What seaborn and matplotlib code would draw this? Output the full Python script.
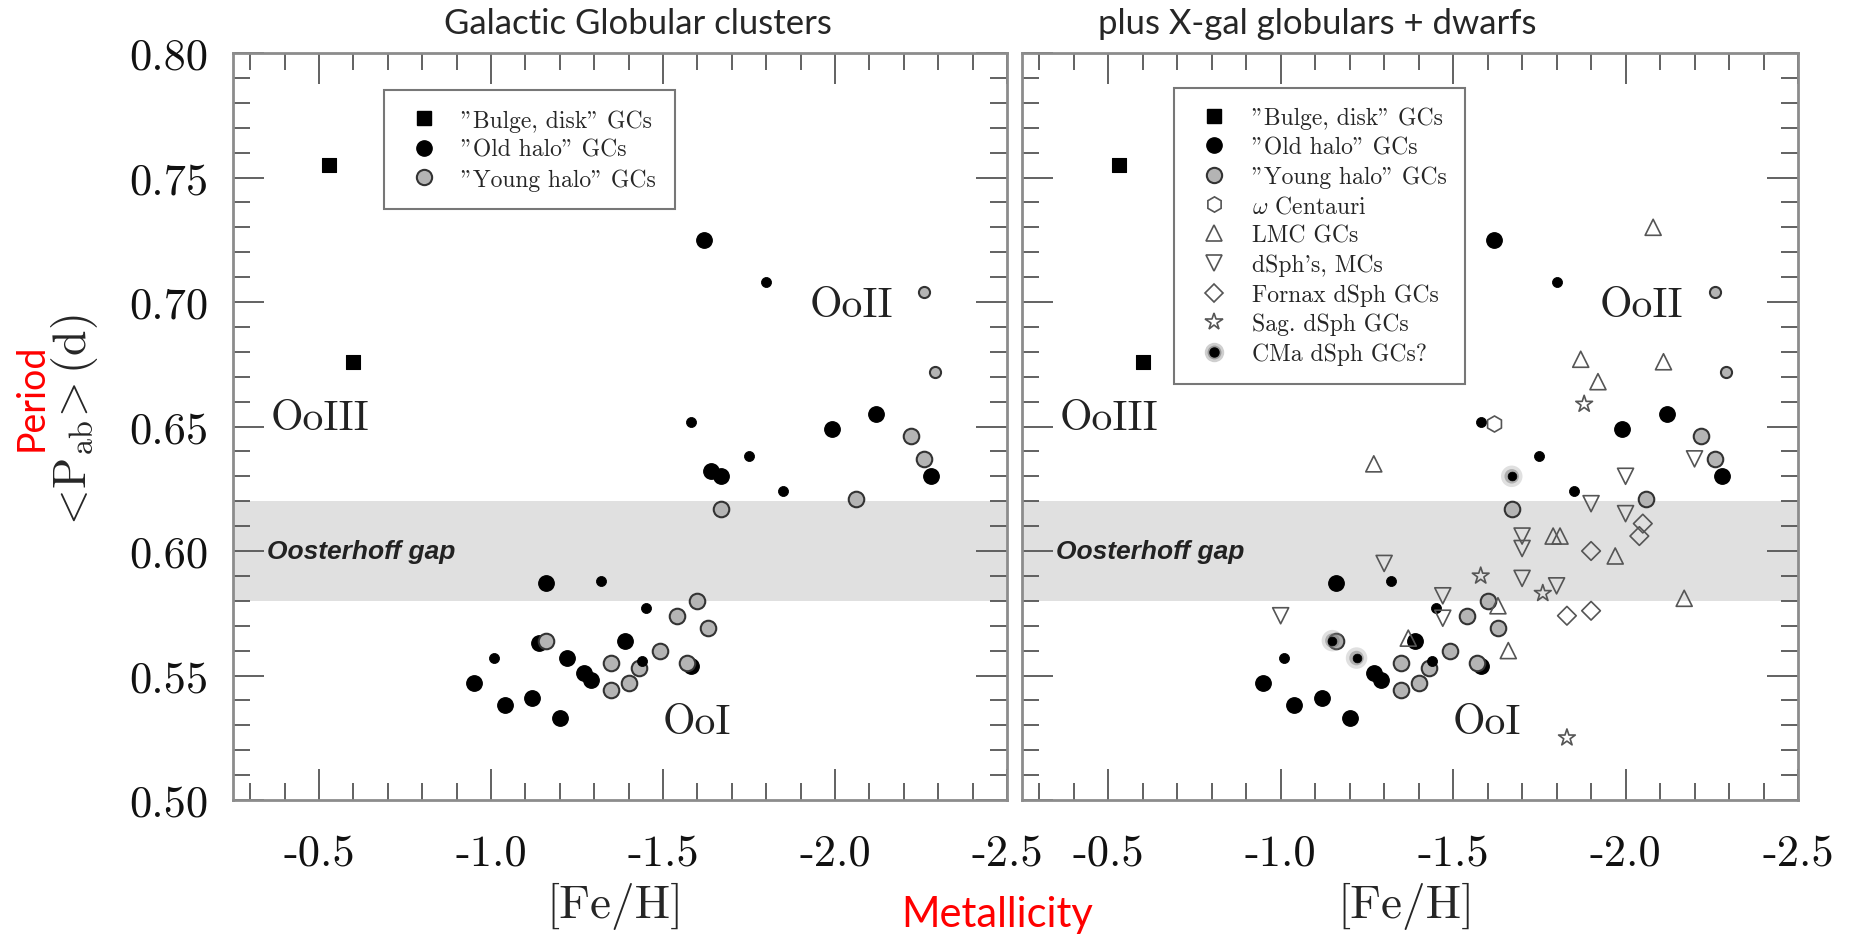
import matplotlib
matplotlib.use('Agg')
import matplotlib.pyplot as plt
import seaborn as sns
from matplotlib.lines import Line2D
from matplotlib.legend_handler import HandlerTuple
from matplotlib.ticker import MultipleLocator

# ---- data ([Fe/H], <Pab>) ----
bulge_feh = [-0.53, -0.60]
bulge_p = [0.755, 0.676]

old_big_feh = [-1.62, -1.99, -2.12, -1.64, -1.67, -2.28, -1.16, -1.39, -1.22,
               -1.27, -1.29, -0.95, -1.04, -1.12, -1.20, -1.14, -1.58]
old_big_p = [0.725, 0.649, 0.655, 0.632, 0.630, 0.630, 0.587, 0.564, 0.557,
             0.551, 0.548, 0.547, 0.538, 0.541, 0.533, 0.563, 0.554]
old_small_feh = [-1.80, -1.58, -1.75, -1.85, -1.32, -1.45, -1.01, -1.44]
old_small_p = [0.708, 0.652, 0.638, 0.624, 0.588, 0.577, 0.557, 0.556]

young_big_feh = [-2.22, -2.26, -1.67, -2.06, -1.60, -1.54, -1.63, -1.49,
                 -1.16, -1.35, -1.57, -1.43, -1.40, -1.35]
young_big_p = [0.646, 0.637, 0.617, 0.621, 0.580, 0.574, 0.569, 0.560,
               0.564, 0.555, 0.555, 0.553, 0.547, 0.544]
young_small_feh = [-2.26, -2.29]
young_small_p = [0.704, 0.672]

omega_feh = [-1.62]
omega_p = [0.651]
lmc_feh = [-2.08, -1.87, -2.11, -1.92, -1.27, -1.79, -1.81, -1.97, -2.17, -1.63, -1.66, -1.37]
lmc_p = [0.730, 0.677, 0.676, 0.668, 0.635, 0.606, 0.606, 0.598, 0.581, 0.578, 0.560, 0.565]
dsph_feh = [-2.20, -2.00, -1.90, -2.00, -1.70, -1.70, -1.30, -1.70, -1.80, -1.47, -1.47, -1.00]
dsph_p = [0.637, 0.630, 0.619, 0.615, 0.606, 0.601, 0.595, 0.589, 0.586, 0.582, 0.573, 0.574]
fornax_feh = [-2.05, -2.04, -1.90, -1.90, -1.83]
fornax_p = [0.611, 0.606, 0.600, 0.576, 0.574]
sag_feh = [-1.88, -1.58, -1.76, -1.83]
sag_p = [0.659, 0.590, 0.583, 0.525]
cma_feh = [-1.67, -1.15, -1.22]
cma_p = [0.630, 0.564, 0.557]

gap_low, gap_high = 0.58, 0.62
xticks = [-0.5, -1.0, -1.5, -2.0, -2.5]
xtick_labels = ['-0.5', '-1.0', '-1.5', '-2.0', '-2.5']
yticks = [0.50, 0.55, 0.60, 0.65, 0.70, 0.75, 0.80]
ytick_labels = ['0.50', '0.55', '0.60', '0.65', '0.70', '0.75', '0.80']

labels_left = ['"Bulge, disk" GCs', '"Old halo" GCs', '"Young halo" GCs']
labels_right = labels_left + [r'$\omega$ Centauri', 'LMC GCs', "dSph's, MCs",
                              'Fornax dSph GCs', 'Sag. dSph GCs', 'CMa dSph GCs?']

sns.set_style('ticks')
plt.rcParams['font.family'] = ['cmr10', 'DejaVu Serif']
plt.rcParams['mathtext.fontset'] = 'cm'
plt.rcParams['axes.unicode_minus'] = False
plt.rcParams['axes.formatter.use_mathtext'] = True

OPEN = dict(facecolor='none', edgecolor='#555555', linewidth=1.2, zorder=3, legend=False)


def pts(ax, feh, p, **kw):
    kw.setdefault('legend', False)
    kw.setdefault('zorder', 3)
    sns.scatterplot(x=feh, y=p, ax=ax, **kw)


def galactic(ax, skip=()):
    pts(ax, bulge_feh, bulge_p, marker='s', s=96, color='k', edgecolor='k')
    keep = [i for i in range(len(old_big_feh))
            if not any(abs(old_big_feh[i] - a) < 0.035 and abs(old_big_p[i] - b) < 0.004 for a, b in skip)]
    pts(ax, [old_big_feh[i] for i in keep], [old_big_p[i] for i in keep],
        marker='o', s=125, color='k', edgecolor='k')
    pts(ax, young_big_feh, young_big_p, marker='o', s=125, color='#b4b4b4',
        edgecolor='#333333', linewidth=1.5)
    pts(ax, old_small_feh, old_small_p, marker='o', s=52, color='k', edgecolor='k')
    pts(ax, young_small_feh, young_small_p, marker='o', s=64, color='#b4b4b4',
        edgecolor='#333333', linewidth=1.5)


def style_axes(ax, show_y):
    ax.axhspan(gap_low, gap_high, color='#e0e0e0', lw=0, zorder=0)
    ax.set_xlim(-0.25, -2.5)
    ax.set_ylim(0.50, 0.80)
    ax.set_xticks(xticks)
    ax.set_xticklabels(xtick_labels)
    ax.set_yticks(yticks)
    ax.set_yticklabels(ytick_labels)
    ax.xaxis.set_minor_locator(MultipleLocator(0.1))
    ax.yaxis.set_minor_locator(MultipleLocator(0.01))
    ax.tick_params(which='both', direction='in', top=True, right=True,
                   color='#555555', width=1.3, labelsize=32, labelcolor='#111111')
    ax.tick_params(which='major', length=22)
    ax.tick_params(which='minor', length=12)
    ax.tick_params(axis='x', pad=24)
    ax.tick_params(axis='y', pad=18, labelleft=show_y)
    for sp in ax.spines.values():
        sp.set_color('#8c8c8c')
        sp.set_linewidth(2)
    ax.set_xlabel('')
    ax.set_ylabel('')
    ax.text(-0.36, 0.6535, 'OoIII', size=30, va='center', color='#222222')
    ax.text(-1.925, 0.6987, 'OoII', size=30, va='center', color='#222222')
    ax.text(-1.50, 0.5311, 'OoI', size=30, va='center', color='#222222')
    ax.text(-0.35, 0.600, 'Oosterhoff gap', family='Liberation Sans', weight='bold',
            style='italic', size=19, va='center', color='#222222')


fig = plt.figure(figsize=(18.56, 9.37), dpi=100)
ax1 = fig.add_axes([233 / 1856, 136 / 937, 774 / 1856, 747 / 937])
ax2 = fig.add_axes([1022 / 1856, 136 / 937, 776 / 1856, 747 / 937])

# left panel: Galactic GCs only
galactic(ax1)
style_axes(ax1, True)

# right panel: plus extragalactic objects
cma_pairs = list(zip(cma_feh, cma_p))
galactic(ax2, skip=cma_pairs)
pts(ax2, omega_feh, omega_p, marker='h', s=133, **OPEN)
pts(ax2, lmc_feh, lmc_p, marker='^', s=133, **OPEN)
pts(ax2, dsph_feh, dsph_p, marker='v', s=133, **OPEN)
pts(ax2, fornax_feh, fornax_p, marker='D', s=90, **OPEN)
pts(ax2, sag_feh, sag_p, marker='*', s=160, **OPEN)
pts(ax2, cma_feh, cma_p, marker='o', s=240, color='#9a9a9a', edgecolor='none', alpha=0.3, zorder=4)
pts(ax2, cma_feh, cma_p, marker='o', s=110, color='#777777', edgecolor='none', alpha=0.45, zorder=4)
pts(ax2, cma_feh, cma_p, marker='o', s=40, color='k', edgecolor='k', zorder=5)
style_axes(ax2, False)

# legends
h_bulge = Line2D([], [], ls='none', marker='s', ms=9.5, mfc='k', mec='k')
h_old = Line2D([], [], ls='none', marker='o', ms=11, mfc='k', mec='k')
h_young = Line2D([], [], ls='none', marker='o', ms=11, mfc='#b4b4b4', mec='#333333', mew=1.5)
h_omega = Line2D([], [], ls='none', marker='h', ms=11, mfc='none', mec='#555555', mew=1.2)
h_lmc = Line2D([], [], ls='none', marker='^', ms=11, mfc='none', mec='#555555', mew=1.2)
h_dsph = Line2D([], [], ls='none', marker='v', ms=11, mfc='none', mec='#555555', mew=1.2)
h_fornax = Line2D([], [], ls='none', marker='D', ms=9, mfc='none', mec='#555555', mew=1.2)
h_sag = Line2D([], [], ls='none', marker='*', ms=13, mfc='none', mec='#555555', mew=1.2)
h_cma = (Line2D([], [], ls='none', marker='o', ms=14, mfc='#888888', mec='none', alpha=0.4),
         Line2D([], [], ls='none', marker='o', ms=10, mfc='#666666', mec='none', alpha=0.5),
         Line2D([], [], ls='none', marker='o', ms=6.5, mfc='k', mec='k'))

leg_kw = dict(loc='upper left', borderaxespad=0, fancybox=False, framealpha=1,
              edgecolor='#777777', prop={'family': 'cmr10', 'size': 17},
              borderpad=0.8, handlelength=1.8, handletextpad=0.68, labelspacing=0.3,
              handler_map={tuple: HandlerTuple(ndivide=1)})
leg1 = ax1.legend([h_bulge, h_old, h_young], labels_left, bbox_to_anchor=(0.195, 0.950), **leg_kw)
leg1.get_frame().set_linewidth(1.5)
leg2 = ax2.legend([h_bulge, h_old, h_young, h_omega, h_lmc, h_dsph, h_fornax, h_sag, h_cma],
                  labels_right, bbox_to_anchor=(0.196, 0.953), **leg_kw)
leg2.get_frame().set_linewidth(1.5)

# figure-level labels
fig.text(638 / 1856, 1 - 24 / 937, 'Galactic Globular clusters', family='Lato',
         size=25, ha='center', va='center')
fig.text(1317 / 1856, 1 - 24 / 937, 'plus X-gal globulars + dwarfs', family='Lato',
         size=25, ha='center', va='center')
fig.text(615 / 1856, 1 - 906 / 937, '[Fe/H]', size=34, ha='center', va='center')
fig.text(1406 / 1856, 1 - 906 / 937, '[Fe/H]', size=34, ha='center', va='center')
fig.text(997 / 1856, 1 - 915 / 937, 'Metallicity', family='Lato', size=30,
         color='red', ha='center', va='center')
fig.text(75 / 1856, 1 - 424 / 937, r'$<\!\mathrm{P}_{\mathrm{ab}}\!>$(d)', size=33,
         rotation=90, ha='center', va='center')
fig.text(32 / 1856, 1 - 397 / 937, 'Period', family='Lato', size=27, color='red',
         rotation=90, ha='center', va='center')

fig.savefig('out.png', dpi=100)
